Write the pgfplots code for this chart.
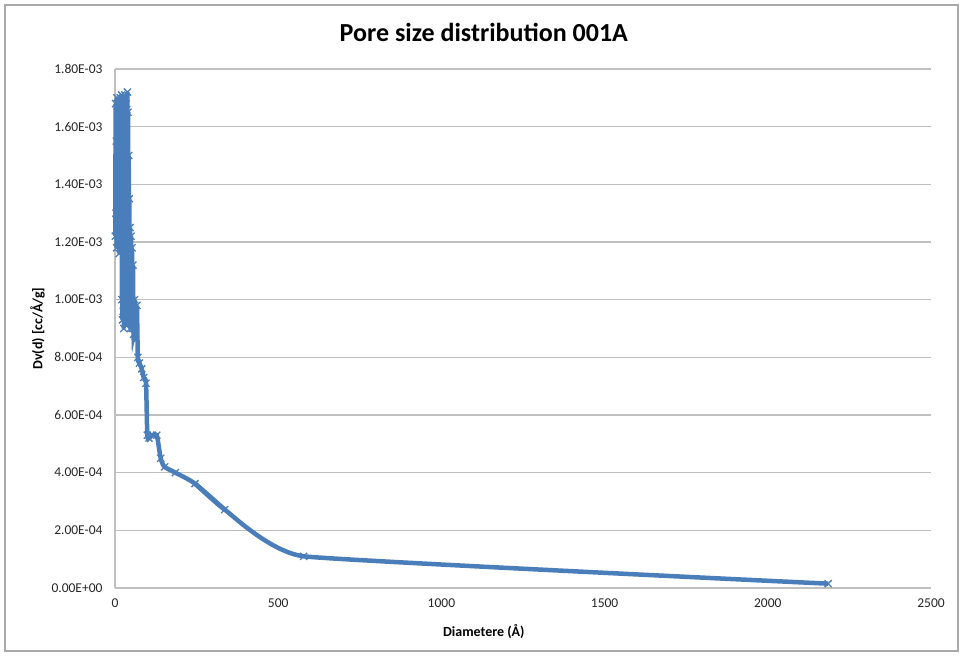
\documentclass[border=0pt]{standalone}
\usepackage{fontspec}
\setmainfont{Carlito}
\usepackage{pgfplots}
\pgfplotsset{compat=1.18}
\definecolor{ser}{RGB}{74,126,187}
\definecolor{gridc}{RGB}{192,192,192}
\definecolor{framec}{RGB}{170,170,170}
\begin{document}
\begin{tikzpicture}
\path[use as bounding box] (0,0) rectangle (963pt,656pt);
\draw[framec, line width=1.2pt] (5pt,5pt) rectangle (958pt,651pt);
\begin{axis}[
  at={(115pt,68pt)}, anchor=south west,
  scale only axis, width=816pt, height=519pt,
  xmin=0, xmax=2500, ymin=0, ymax=0.0018,
  axis x line*=bottom, axis y line*=left,
  axis line style={gridc, line width=1.5pt},
  major tick length=0pt,
  xtick={0,500,1000,1500,2000,2500},
  xticklabels={0,500,1000,1500,2000,2500},
  ytick={0,0.0002,0.0004,0.0006,0.0008,0.0010,0.0012,0.0014,0.0016,0.0018},
  yticklabels={0.00E+00,2.00E-04,4.00E-04,6.00E-04,8.00E-04,1.00E-03,1.20E-03,1.40E-03,1.60E-03,1.80E-03},
  scaled y ticks=false, scaled x ticks=false,
  ymajorgrids, grid style={gridc, line width=1.5pt},
  tick label style={font=\fontsize{13.5}{16}\selectfont, text=black!85},
  xticklabel style={yshift=-7pt},
  yticklabel style={xshift=-9pt},
  title={Pore size distribution 001A},
  title style={at={(axis description cs:0.452,1.0597)}, anchor=center, font=\fontsize{26}{30}\selectfont\bfseries},
  xlabel={Diametere (Å)},
  xlabel style={at={(axis description cs:0.452,-0.0848)}, anchor=center, font=\fontsize{14}{17}\selectfont\bfseries},
  ylabel={Dv(d) [cc/Å/g]},
  ylabel style={at={(axis description cs:-0.095,0.5)}, anchor=center, font=\fontsize{14}{17}\selectfont\bfseries},
  clip=false,
]
% dense small-pore region and middle part
\addplot[ser, line width=4.5pt, smooth, tension=0.4, mark=x, mark size=5pt,
  mark options={line width=1.3pt, solid}] coordinates {
(1,0.00122)
(2,0.00168)
(3,0.00130)
(4,0.00155)
(5,0.00118)
(6,0.00170)
(7,0.00125)
(8,0.00165)
(9,0.00120)
(10,0.00162)
(11,0.00128)
(12,0.00169)
(13,0.00116)
(14,0.00166)
(15,0.00122)
(16,0.00170)
(17,0.00119)
(18,0.00164)
(19,0.00125)
(20,0.00171)
(21,0.00100)
(22,0.00168)
(23,0.00093)
(24,0.00166)
(25,0.00096)
(26,0.00170)
(27,0.00090)
(28,0.00167)
(29,0.00098)
(30,0.00171)
(31,0.00092)
(32,0.00168)
(33,0.00095)
(34,0.00170)
(35,0.00091)
(36,0.00166)
(37,0.00097)
(38,0.00172)
(39,0.00093)
(40,0.00165)
(41,0.00096)
(42,0.00150)
(43,0.00092)
(44,0.00135)
(45,0.00094)
(46,0.00125)
(47,0.00090)
(49,0.00122)
(50,0.00092)
(52,0.00118)
(53,0.00090)
(55,0.00112)
(57,0.00088)
(60,0.00100)
(63,0.00086)
(67,0.00098)
(70,0.00080)
(75,0.00078)
(82,0.00076)
(88,0.00073)
(95,0.00071)
(99,0.00053)
(104,0.00052)
(115,0.00053)
(128,0.00053)
(140,0.00045)
(152,0.00042)
(185,0.000400)
(245,0.000362)
(336,0.000272)
};
% large-pore tail
\addplot[ser, line width=4.5pt, smooth, tension=0.2, mark=x, mark size=5pt,
  mark indices={3,4}, mark options={line width=1.3pt, solid}] coordinates {
(245,0.000362)
(336,0.000272)
(578,0.000110)
(2185,0.0000150)
};
\end{axis}
\end{tikzpicture}
\end{document}
